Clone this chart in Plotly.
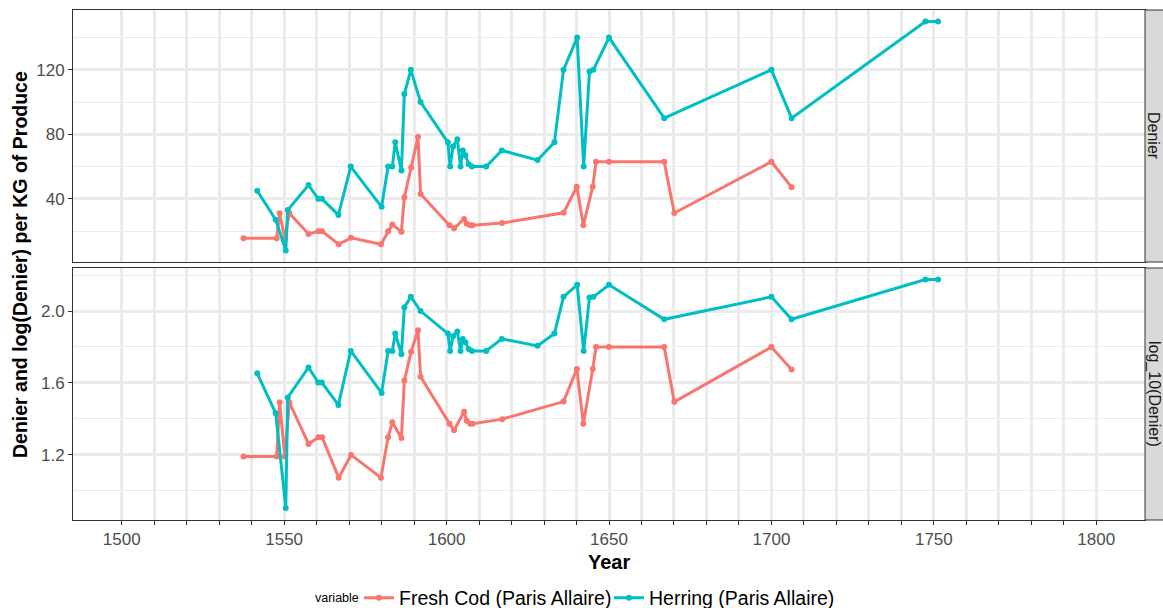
import numpy as np
import plotly.graph_objects as go

# ---- data ----
cod_years = [1537.5, 1547.7, 1548.6, 1550.2, 1551.6, 1557.5, 1560.6, 1561.7, 1566.8, 1570.6,
             1579.8, 1582.0, 1583.3, 1586.1, 1587.0, 1589.1, 1591.2, 1592.0, 1600.9, 1602.3,
             1605.4, 1606.2, 1607.3, 1608.0, 1617.1, 1636.0, 1640.1, 1642.1, 1645.0, 1646.0,
             1650.0, 1667.0, 1670.1, 1700.0, 1706.2]
cod_denier = [15.5, 15.5, 31.0, 15.5, 31.0, 18.2, 19.8, 19.8, 11.8, 15.8,
              11.8, 19.8, 24.0, 19.6, 41.0, 59.4, 78.3, 43.0, 23.6, 21.7,
              27.5, 24.5, 23.6, 23.6, 25.0, 31.3, 47.5, 23.6, 47.5, 63.0,
              63.0, 63.0, 31.2, 63.0, 47.2]

herring_years = [1541.7, 1547.4, 1550.5, 1551.1, 1557.5, 1560.5, 1561.6, 1566.7, 1570.5, 1580.0,
                 1582.0, 1583.3, 1584.2, 1586.1, 1587.0, 1589.0, 1592.0, 1600.4, 1601.1, 1602.0,
                 1603.3, 1604.3, 1605.0, 1605.8, 1606.8, 1607.8, 1612.2, 1617.0, 1628.0, 1633.2,
                 1636.0, 1640.2, 1642.2, 1644.0, 1645.2, 1650.0, 1667.0, 1700.0, 1706.2, 1747.4,
                 1751.3]
herring_denier = [45.0, 27.0, 8.0, 33.0, 48.5, 40.0, 40.0, 30.0, 60.0, 35.0,
                  60.0, 60.0, 75.0, 57.5, 105.0, 120.0, 100.0, 75.0, 60.0, 72.5,
                  77.0, 60.0, 70.0, 67.0, 61.5, 60.0, 60.0, 70.0, 64.0, 75.0,
                  120.0, 140.0, 60.0, 119.0, 120.0, 140.0, 90.0, 120.0, 90.0, 150.0,
                  150.0]

series_names = ["Fresh Cod (Paris Allaire)", "Herring (Paris Allaire)"]
series_colors = ["#F8766D", "#00BFC4"]
facet_labels = ["Denier", "log_10(Denier)"]
x_breaks = list(range(1500, 1801, 10))
x_labels = [str(v) if v % 50 == 0 else "" for v in x_breaks]

W, H = 1163, 608
L, R, T, B = 73, 18, 10, 88
plot_w = W - L - R
plot_h = H - T - B


def py(pix):
    """pixel row -> paper y"""
    return (H - B - pix) / plot_h


def px(pix):
    """pixel column -> paper x"""
    return (pix - L) / plot_w


top_dom = [py(262), 1.0]
bot_dom = [0.0, py(268)]

FONT = "Liberation Sans, Arial, sans-serif"
fig = go.Figure()
data = [(cod_years, cod_denier), (herring_years, herring_denier)]
for i, (xs, ys) in enumerate(data):
    fig.add_trace(go.Scatter(x=xs, y=ys, mode="lines+markers", name=series_names[i],
                             line=dict(color=series_colors[i], width=3),
                             marker=dict(color=series_colors[i], size=6),
                             xaxis="x", yaxis="y", legendgroup=str(i), showlegend=True))
    fig.add_trace(go.Scatter(x=xs, y=np.log10(ys), mode="lines+markers", name=series_names[i],
                             line=dict(color=series_colors[i], width=3),
                             marker=dict(color=series_colors[i], size=6),
                             xaxis="x2", yaxis="y2", legendgroup=str(i), showlegend=False))

grid = "#EBEBEB"
border = "#333333"
tickfont = dict(family=FONT, size=17, color="#4D4D4D")
common_x = dict(range=[1485, 1815], tickvals=x_breaks, showgrid=True, gridcolor=grid, gridwidth=2.6,
                zeroline=False, showline=True, mirror=True, linecolor=border, linewidth=1,
                automargin=False)
common_y = dict(showgrid=True, gridcolor=grid, gridwidth=2.6, zeroline=False,
                showline=True, mirror=True, linecolor=border, linewidth=1,
                ticks="outside", ticklen=4, tickcolor=border, tickfont=tickfont, automargin=False)
fig.update_layout(
    width=W, height=H,
    margin=dict(l=L, r=R, t=T, b=B, autoexpand=False),
    paper_bgcolor="white", plot_bgcolor="white",
    font=dict(family=FONT, color="black"),
    xaxis=dict(**common_x, anchor="y", showticklabels=False, ticks=""),
    xaxis2=dict(**common_x, anchor="y2", matches="x", ticktext=x_labels, tickmode="array",
                ticks="outside", ticklen=4, tickcolor=border, tickwidth=1, tickfont=tickfont),
    yaxis=dict(**common_y, domain=top_dom, anchor="x", range=[0.8, 157.1], tickvals=[40, 80, 120],
               minor=dict(tickvals=[20, 60, 100, 140], showgrid=True, gridcolor=grid, gridwidth=1.4, ticks="")),
    yaxis2=dict(**common_y, domain=bot_dom, anchor="x2", range=[0.836, 2.24], tickvals=[1.2, 1.6, 2.0],
                ticktext=["1.2", "1.6", "2.0"],
                minor=dict(tickvals=[1.0, 1.4, 1.8, 2.2], showgrid=True, gridcolor=grid, gridwidth=1.4, ticks="")),
    legend=dict(orientation="h", x=px(359), xanchor="left", y=py(598), yanchor="middle",
                font=dict(size=19.5, color="black"), itemwidth=30, entrywidth=205,
                bgcolor="rgba(0,0,0,0)", borderwidth=0),
)

strip_x0 = 1.0
strip_x1 = px(1175)
for dom, lab in zip([top_dom, bot_dom], facet_labels):
    fig.add_shape(type="rect", xref="paper", yref="paper", x0=strip_x0, x1=strip_x1,
                  y0=dom[0], y1=dom[1], fillcolor="#D9D9D9", line=dict(color=border, width=1), layer="above")
    fig.add_annotation(xref="paper", yref="paper", x=px(1154), y=(dom[0] + dom[1]) / 2,
                       text=lab, textangle=90, showarrow=False, xanchor="center", yanchor="middle",
                       font=dict(size=16, color="#1A1A1A"))

fig.add_annotation(xref="paper", yref="paper", x=px(20), y=0.5,
                   text="<b>Denier and log(Denier) per KG of Produce</b>",
                   textangle=-90, showarrow=False, xanchor="center", yanchor="middle",
                   font=dict(size=19.5, color="black"))
fig.add_annotation(xref="paper", yref="paper", x=0.5, y=py(562), text="<b>Year</b>",
                   showarrow=False, xanchor="center", yanchor="middle", font=dict(size=20, color="black"))
fig.add_annotation(xref="paper", yref="paper", x=px(361), y=py(598), text="variable",
                   showarrow=False, xanchor="right", yanchor="middle", font=dict(size=12.5, color="black"))

fig.write_html("out.html", config={"displayModeBar": False},
               post_script="document.body.style.margin='0';document.body.style.overflow='hidden';")
